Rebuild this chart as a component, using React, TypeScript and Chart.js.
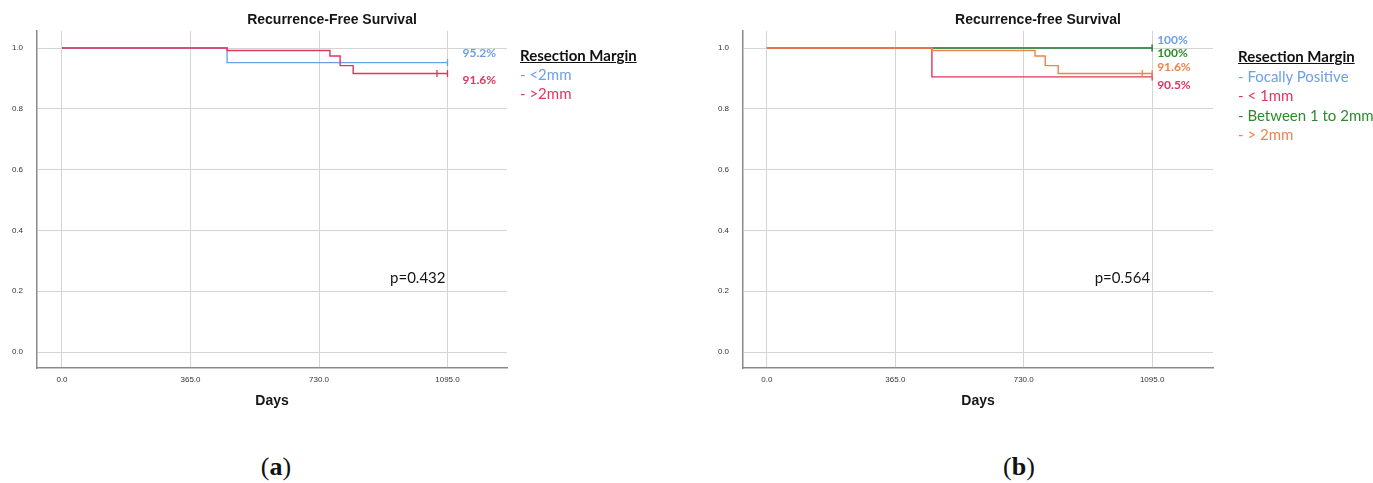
import React, { useEffect, useRef } from "react";
import { Chart, registerables } from "chart.js";
Chart.register(...registerables);

// ---------- shared axes ----------
const X_TICKS = [0, 365, 730, 1095];
const Y_TICKS = [0, 0.2, 0.4, 0.6, 0.8, 1.0];

// ---------- panel (a) ----------
const A_TITLE = "Recurrence-Free Survival";
const A_P_VALUE = "p=0.432";
const A_LEGEND = ["- <2mm", "- >2mm"];
const A_END_LABELS = ["95.2%", "91.6%"];
const A_LT2_DAYS = [0, 469, 1095];
const A_LT2_SURV = [1, 0.952, 0.952];
const A_LT2_CENSOR = [1095];
const A_GT2_DAYS = [0, 469, 761, 790, 827, 1095];
const A_GT2_SURV = [1, 0.992, 0.974, 0.942, 0.916, 0.916];
const A_GT2_CENSOR = [1065, 1095];

// ---------- panel (b) ----------
const B_TITLE = "Recurrence-free Survival";
const B_P_VALUE = "p=0.564";
const B_LEGEND = ["- Focally Positive", "- < 1mm", "- Between 1 to 2mm", "- > 2mm"];
const B_END_LABELS = ["100%", "100%", "91.6%", "90.5%"];
const B_FOCAL_DAYS = [0, 1095];
const B_FOCAL_SURV = [1, 1];
const B_FOCAL_CENSOR = [1095];
const B_LT1_DAYS = [0, 469, 1095];
const B_LT1_SURV = [1, 0.905, 0.905];
const B_LT1_CENSOR = [1095];
const B_1TO2_DAYS = [0, 1095];
const B_1TO2_SURV = [1, 1];
const B_1TO2_CENSOR = [1095];
const B_GT2_DAYS = [0, 469, 762, 791, 828, 1095];
const B_GT2_SURV = [1, 0.992, 0.974, 0.942, 0.916, 0.916];
const B_GT2_CENSOR = [1067, 1095];

const BLUE = "#6c9fe6";
const RED = "#e2345f";
const GREEN = "#2f8a2f";
const ORANGE = "#f0834b";
const CAL = "Lato, 'Open Sans', sans-serif";
const SANS = "'Liberation Sans', Arial, sans-serif";

function survAt(days: number[], surv: number[], t: number) {
  let v = surv[0];
  for (let i = 0; i < days.length; i++) if (days[i] <= t) v = surv[i];
  return v;
}

type Series = {
  days: number[];
  surv: number[];
  censor: number[];
  color: string;
  label: string;
  labelDy: number;
};

const CW = 664;
const CH = 420;
const AXIS_W = 37;
const PLOT_R = 507;
const PLOT_T = 31;
const PLOT_B = 368;

function KMChart(props: {
  left: number;
  title: string;
  pText: string;
  xMin: number;
  xMax: number;
  labelDx: number;
  series: Series[];
}) {
  const ref = useRef<HTMLCanvasElement>(null);
  useEffect(() => {
    const { title, pText, xMin, xMax, labelDx, series } = props;
    const datasets: any[] = [];
    // series listed bottom-to-top; Chart.js paints dataset 0 last (on top), so reverse afterwards
    series.forEach((s) => {
      datasets.push({
        data: s.days.map((d, i) => ({ x: d, y: s.surv[i] })),
        stepped: "before",
        borderColor: s.color,
        borderWidth: 1.4,
        pointRadius: 0,
        fill: false,
      });
      datasets.push({
        data: s.censor.map((d) => ({ x: d, y: survAt(s.days, s.surv, d) })),
        showLine: false,
        pointStyle: "line",
        rotation: 90,
        pointRadius: 3.5,
        borderColor: s.color,
        borderWidth: 1.3,
      });
    });
    datasets.reverse();
    const annot = {
      id: "annot",
      afterDatasetsDraw(chart: any) {
        const { ctx, scales } = chart;
        const x = scales.x;
        const y = scales.y;
        ctx.save();
        ctx.textBaseline = "middle";
        ctx.fillStyle = "#161616";
        ctx.textAlign = "center";
        ctx.font = `bold 14px ${SANS}`;
        ctx.fillText(title, 332, 20);
        ctx.textAlign = "left";
        ctx.font = `bold 12px ${CAL}`;
        const xe = x.getPixelForValue(1095) + labelDx;
        series.forEach((s) => {
          ctx.fillStyle = s.color;
          const v = s.surv[s.surv.length - 1];
          ctx.fillText(s.label, xe, y.getPixelForValue(v) + s.labelDy);
        });
        ctx.fillStyle = "#161616";
        ctx.textAlign = "right";
        ctx.font = `15px ${CAL}`;
        ctx.fillText(pText, x.getPixelForValue(1095) - 2, y.getPixelForValue(0.243));
        ctx.restore();
      },
    };
    const chart = new Chart(ref.current as HTMLCanvasElement, {
      type: "line",
      data: { datasets },
      plugins: [annot],
      options: {
        responsive: false,
        animation: false,
        devicePixelRatio: 1,
        layout: { padding: { left: 0, top: PLOT_T, right: CW - PLOT_R, bottom: 0 } },
        plugins: { legend: { display: false }, tooltip: { enabled: false }, title: { display: false } },
        scales: {
          x: {
            type: "linear",
            min: xMin,
            max: xMax,
            afterBuildTicks: (s: any) => {
              s.ticks = X_TICKS.map((v) => ({ value: v }));
            },
            afterFit: (s: any) => {
              s.height = CH - PLOT_B;
            },
            ticks: {
              callback: (v: any) => Number(v).toFixed(1),
              font: { size: 8, family: SANS },
              color: "#333",
              padding: 7,
              maxRotation: 0,
              autoSkip: false,
            },
            grid: { color: "#d4d4d4", lineWidth: 1, drawTicks: false },
            border: { color: "#8a8a8a", width: 1.5 },
            title: {
              display: true,
              text: "Days",
              font: { size: 14, weight: "bold", family: SANS },
              color: "#161616",
              padding: { top: 0, bottom: 10 },
            },
          },
          y: {
            type: "linear",
            min: -0.0526,
            max: 1.056,
            afterBuildTicks: (s: any) => {
              s.ticks = Y_TICKS.map((v) => ({ value: v }));
            },
            afterFit: (s: any) => {
              s.width = AXIS_W;
            },
            ticks: {
              callback: (v: any) => Number(v).toFixed(1),
              font: { size: 8, family: SANS },
              color: "#333",
              padding: 14,
              autoSkip: false,
            },
            grid: { color: "#d4d4d4", lineWidth: 1, drawTicks: false },
            border: { color: "#8a8a8a", width: 1.5 },
          },
        },
      } as any,
    });
    return () => chart.destroy();
  }, []);
  return (
    <canvas
      ref={ref}
      width={CW}
      height={CH}
      style={{ position: "absolute", left: props.left, top: 0, width: CW, height: CH }}
    />
  );
}

function Legend(props: { left: number; top: number; lh: number; items: string[]; colors: string[] }) {
  return (
    <div
      style={{
        position: "absolute",
        left: props.left,
        top: props.top,
        fontFamily: CAL,
        fontSize: 15,
        lineHeight: props.lh + "px",
        whiteSpace: "nowrap",
      }}
    >
      <div style={{ fontWeight: "bold", textDecoration: "underline", color: "#111" }}>Resection Margin</div>
      {props.items.map((t, i) => (
        <div key={i} style={{ color: props.colors[i] }}>
          {t}
        </div>
      ))}
    </div>
  );
}

function Caption(props: { cx: number; letter: string }) {
  return (
    <div
      style={{
        position: "absolute",
        left: props.cx - 40,
        width: 80,
        top: 450,
        textAlign: "center",
        fontFamily: "'Liberation Serif', 'DejaVu Serif', serif",
        fontSize: 26,
        lineHeight: "34px",
        color: "#111",
      }}
    >
      (<b>{props.letter}</b>)
    </div>
  );
}

export default function App() {
  const aSeries: Series[] = [
    { days: A_LT2_DAYS, surv: A_LT2_SURV, censor: A_LT2_CENSOR, color: BLUE, label: A_END_LABELS[0], labelDy: -9 },
    { days: A_GT2_DAYS, surv: A_GT2_SURV, censor: A_GT2_CENSOR, color: RED, label: A_END_LABELS[1], labelDy: 7 },
  ];
  const bSeries: Series[] = [
    { days: B_FOCAL_DAYS, surv: B_FOCAL_SURV, censor: B_FOCAL_CENSOR, color: BLUE, label: B_END_LABELS[0], labelDy: -8 },
    { days: B_1TO2_DAYS, surv: B_1TO2_SURV, censor: B_1TO2_CENSOR, color: GREEN, label: B_END_LABELS[1], labelDy: 5 },
    { days: B_LT1_DAYS, surv: B_LT1_SURV, censor: B_LT1_CENSOR, color: RED, label: B_END_LABELS[3], labelDy: 8 },
    { days: B_GT2_DAYS, surv: B_GT2_SURV, censor: B_GT2_CENSOR, color: ORANGE, label: B_END_LABELS[2], labelDy: -6 },
  ];
  return (
    <div style={{ position: "absolute", left: 0, top: 0, width: 1373, height: 483, background: "#fff", overflow: "hidden" }}>
      <KMChart left={0} title={A_TITLE} pText={A_P_VALUE} xMin={-71} xMax={1264} labelDx={15} series={aSeries} />
      <KMChart left={706} title={B_TITLE} pText={B_P_VALUE} xMin={-68} xMax={1268} labelDx={5} series={bSeries} />
      <Legend left={520} top={46} lh={19} items={A_LEGEND} colors={[BLUE, RED]} />
      <Legend left={1238} top={47} lh={19.5} items={B_LEGEND} colors={[BLUE, RED, GREEN, ORANGE]} />
      <Caption cx={276} letter="a" />
      <Caption cx={1019} letter="b" />
    </div>
  );
}
